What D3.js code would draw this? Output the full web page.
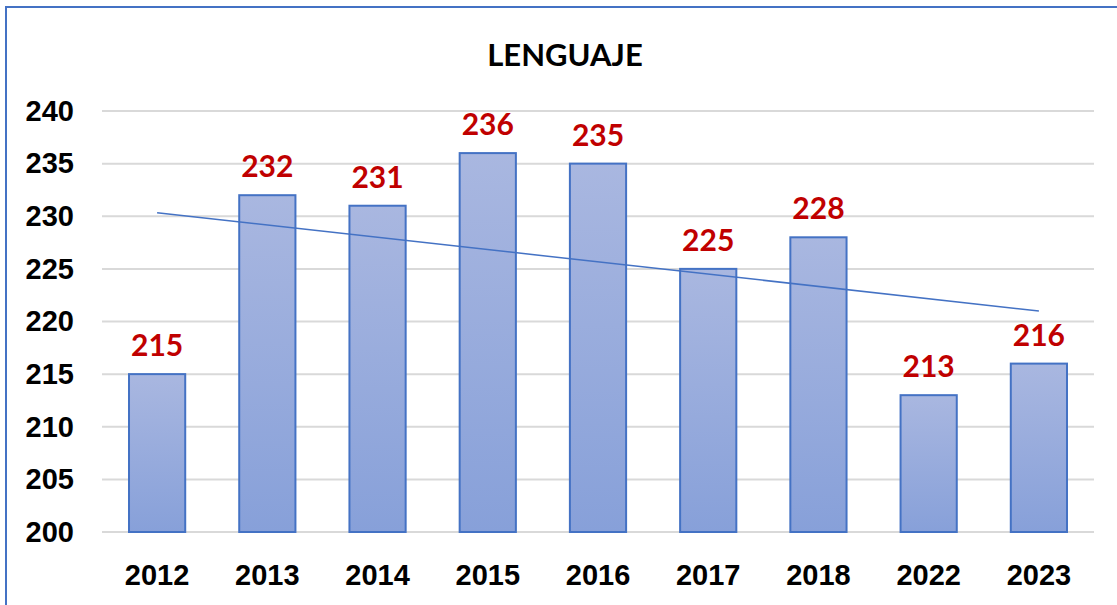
<!DOCTYPE html>
<html>
<head>
<meta charset="utf-8">
<script src="https://cdn.jsdelivr.net/npm/d3@7"></script>
<style>
  body { margin: 0; background: #fff; }
  svg { display: block; font-family: Lato, "Open Sans", sans-serif; }
</style>
</head>
<body>
<div id="chart-area"></div>
<script>
// data
var years = ["2012", "2013", "2014", "2015", "2016", "2017", "2018", "2022", "2023"];
var scores = [215, 232, 231, 236, 235, 225, 228, 213, 216];
var yTicks = [200, 205, 210, 215, 220, 225, 230, 235, 240];

var W = 1117, H = 605;
var margin = { left: 102, right: 23, top: 111, bottom: 73 };
var width = W - margin.left - margin.right,
    height = H - margin.top - margin.bottom;

var svg = d3.select("#chart-area")
    .append("svg")
    .attr("width", W)
    .attr("height", H);

// chart frame
svg.append("rect")
    .attr("x", 6).attr("y", 7)
    .attr("width", W + 10).attr("height", H + 10)
    .attr("fill", "#fff")
    .attr("stroke", "#4472C4")
    .attr("stroke-width", 2);

var defs = svg.append("defs");
var grad = defs.append("linearGradient")
    .attr("id", "barGrad")
    .attr("x1", 0).attr("y1", 0).attr("x2", 0).attr("y2", 1);
grad.append("stop").attr("offset", "0%").attr("stop-color", "#A9B7E0");
grad.append("stop").attr("offset", "100%").attr("stop-color", "#87A0D9");

var g = svg.append("g")
    .attr("transform", "translate(" + margin.left + "," + margin.top + ")");

var x = d3.scaleBand()
    .domain(years)
    .range([0, width])
    .paddingInner(0.49)
    .paddingOuter(0.245);

var y = d3.scaleLinear()
    .domain([200, 240])
    .range([height, 0]);

// gridlines
g.append("g")
    .selectAll("line")
    .data(yTicks)
    .enter().append("line")
        .attr("x1", 0).attr("x2", width)
        .attr("y1", function(d) { return y(d); })
        .attr("y2", function(d) { return y(d); })
        .attr("stroke", "#D9D9D9")
        .attr("stroke-width", 2);

// y axis labels
var yAxis = g.append("g")
    .call(d3.axisLeft(y).tickValues(yTicks).tickSize(0).tickPadding(28));
yAxis.select(".domain").remove();
yAxis.selectAll("text")
    .attr("font-size", 29)
    .attr("font-weight", "bold")
    .attr("fill", "#000");

// x axis labels
var xAxis = g.append("g")
    .attr("transform", "translate(0," + height + ")")
    .call(d3.axisBottom(x).tickSize(0).tickPadding(32));
xAxis.select(".domain").remove();
xAxis.selectAll("text")
    .attr("font-size", 29)
    .attr("font-weight", "bold")
    .attr("fill", "#000");

// bars
var data = years.map(function(d, i) { return { year: d, value: scores[i] }; });

g.selectAll(".bar")
    .data(data)
    .enter().append("rect")
        .attr("class", "bar")
        .attr("x", function(d) { return x(d.year); })
        .attr("y", function(d) { return y(d.value); })
        .attr("width", x.bandwidth())
        .attr("height", function(d) { return height - y(d.value); })
        .attr("fill", "url(#barGrad)")
        .attr("stroke", "#4472C4")
        .attr("stroke-width", 2);

// value labels
g.selectAll(".lbl")
    .data(data)
    .enter().append("text")
        .attr("class", "lbl")
        .attr("x", function(d) { return x(d.year) + x.bandwidth() / 2; })
        .attr("y", function(d) { return y(d.value) - 18; })
        .attr("text-anchor", "middle")
        .attr("font-size", 30)
        .attr("font-weight", "bold")
        .attr("fill", "#C00000")
        .text(function(d) { return d.value; });

// linear trendline (least squares over category index)
var n = scores.length;
var mx = (n + 1) / 2, my = d3.mean(scores);
var sxy = 0, sxx = 0;
scores.forEach(function(v, i) {
    sxy += (i + 1 - mx) * (v - my);
    sxx += (i + 1 - mx) * (i + 1 - mx);
});
var slope = sxy / sxx, icpt = my - slope * mx;
var first = years[0], last = years[n - 1];

g.append("line")
    .attr("x1", x(first) + x.bandwidth() / 2)
    .attr("y1", y(icpt + slope * 1))
    .attr("x2", x(last) + x.bandwidth() / 2)
    .attr("y2", y(icpt + slope * n))
    .attr("stroke", "#4472C4")
    .attr("stroke-width", 1.5);

// title
svg.append("text")
    .attr("x", 565)
    .attr("y", 66)
    .attr("text-anchor", "middle")
    .attr("font-size", 31)
    .attr("font-weight", "bold")
    .attr("fill", "#000")
    .text("LENGUAJE");
</script>
</body>
</html>
